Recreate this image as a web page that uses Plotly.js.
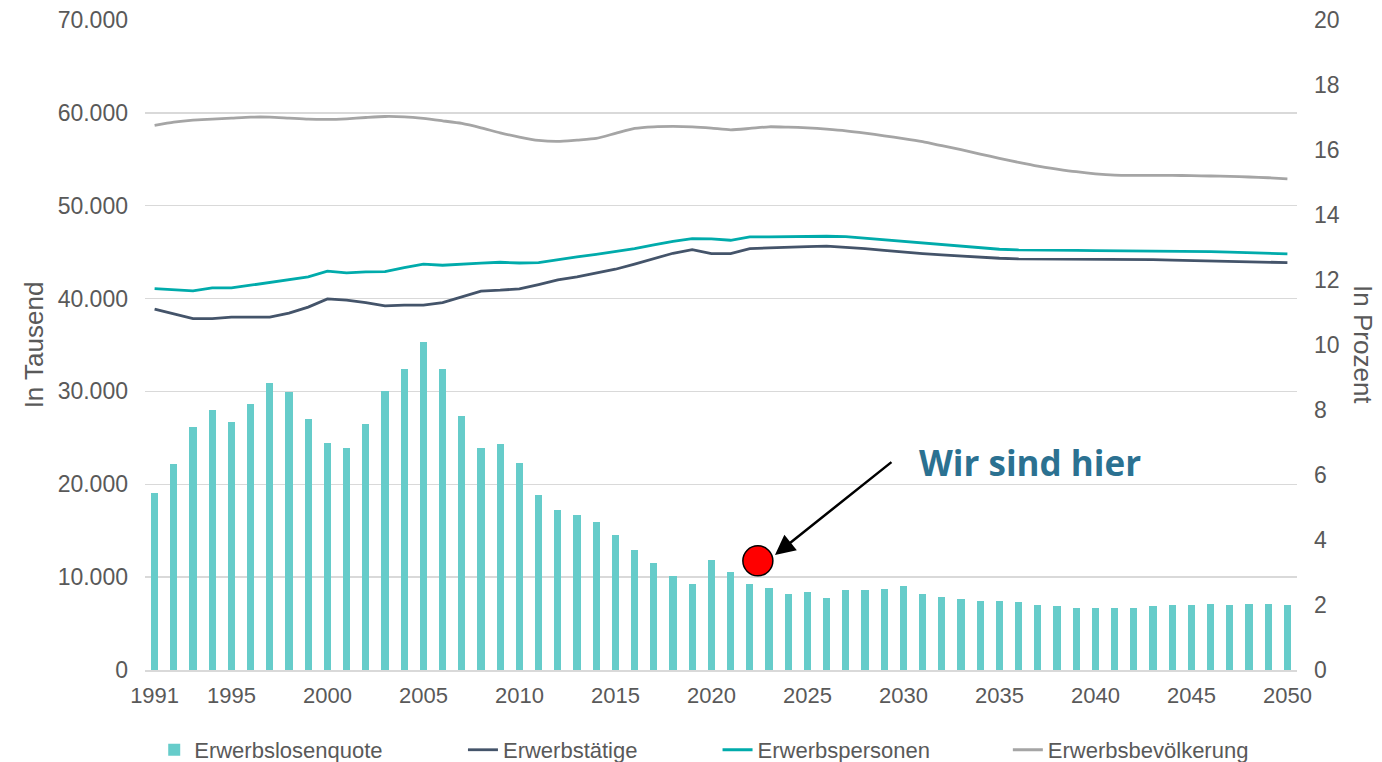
<!DOCTYPE html>
<html>
<head>
<meta charset="utf-8">
<script src="https://cdn.plot.ly/plotly-3.0.1.min.js"></script>
<style>html,body{margin:0;padding:0;background:#fff;}#chart{width:1382px;height:762px;}</style>
</head>
<body>
<div id="chart"></div>
<script>
const years = [1991,1992,1993,1994,1995,1996,1997,1998,1999,2000,
  2001,2002,2003,2004,2005,2006,2007,2008,2009,2010,
  2011,2012,2013,2014,2015,2016,2017,2018,2019,2020,
  2021,2022,2023,2024,2025,2026,2027,2028,2029,2030,
  2031,2032,2033,2034,2035,2036,2037,2038,2039,2040,
  2041,2042,2043,2044,2045,2046,2047,2048,2049,2050];

// Erwerbslosenquote in %
const erwerbslosenquote = [5.44,6.35,7.47,8.01,7.63,8.20,8.84,8.55,7.71,6.97,
  6.84,7.58,8.60,9.27,10.09,9.25,7.81,6.82,6.96,6.37,
  5.38,4.92,4.78,4.54,4.16,3.70,3.29,2.89,2.65,3.39,
  3.01,2.64,2.52,2.33,2.40,2.23,2.46,2.46,2.50,2.58,
  2.33,2.25,2.17,2.13,2.11,2.10,1.99,1.96,1.91,1.92,
  1.90,1.91,1.96,2.00,1.99,2.02,2.00,2.03,2.03,2.00];

// in Tausend
const erwerbstaetige = [38860,38360,37850,37850,38000,38000,38000,38430,39080,39970,
  39830,39570,39220,39290,39290,39570,40220,40800,40900,41050,
  41510,42010,42330,42730,43160,43700,44300,44880,45270,44840,
  44840,45380,45450,45560,45590,45640,45530,45380,45200,44990,
  44840,44700,44560,44450,44340,44270,44270,44270,44270,44260,
  44250,44240,44200,44150,44090,44050,43980,43940,43900,43870];

const erwerbspersonen = [41080,40940,40830,41150,41150,41440,41720,42050,42330,42950,
  42770,42870,42910,43340,43700,43590,43660,43810,43910,43830,
  43870,44200,44490,44770,45060,45380,45780,46170,46450,46420,
  46280,46640,46640,46670,46710,46710,46670,46500,46310,46150,
  45990,45780,45590,45420,45310,45240,45200,45190,45180,45170,
  45160,45140,45120,45100,45080,45060,45000,44920,44850,44810];

const erwerbsbevoelkerung = [58650,59000,59220,59320,59430,59540,59540,59430,59320,59290,
  59360,59500,59610,59570,59400,59140,58860,58390,57850,57390,
  57030,56920,57070,57250,57790,58320,58500,58540,58500,58360,
  58170,58320,58500,58460,58390,58250,58070,57820,57530,57230,
  56890,56460,56030,55560,55100,54670,54270,53950,53660,53440,
  53300,53270,53270,53270,53230,53200,53160,53090,53010,52900];

const leftTicks = [0,10000,20000,30000,40000,50000,60000,70000];
const leftTickText = ['0','10.000','20.000','30.000','40.000','50.000','60.000','70.000'];
const xTicks = [1991,1995,2000,2005,2010,2015,2020,2025,2030,2035,2040,2045,2050];

// "Wir sind hier" marker (year, %)
const hereX = [2022.42];
const hereY = [3.36];

const FONT = '"Liberation Sans", Arial, sans-serif';
const GREY = '#595959';

const traces = [
  {type:'bar', x:years, y:erwerbslosenquote, yaxis:'y2', name:'Erwerbslosenquote',
   marker:{color:'#66CCCA'}, width:0.38, legend:'legend'},
  {type:'scatter', mode:'lines', x:years, y:erwerbstaetige, name:'Erwerbstätige',
   line:{color:'#44546A', width:2.8}, legend:'legend2'},
  {type:'scatter', mode:'lines', x:years, y:erwerbspersonen, name:'Erwerbspersonen',
   line:{color:'#00ABAB', width:2.8}, legend:'legend3'},
  {type:'scatter', mode:'lines', x:years, y:erwerbsbevoelkerung, name:'Erwerbsbevölkerung',
   line:{color:'#A5A5A5', width:2.8, shape:'spline', smoothing:0.6}, legend:'legend4'},
  {type:'scatter', mode:'markers', x:hereX, y:hereY, yaxis:'y2', showlegend:false,
   marker:{size:30, color:'#FF0000', line:{color:'#000', width:1.5}}, hoverinfo:'skip'}
];

const legBase = {orientation:'h', yanchor:'middle', y:-0.123, xanchor:'left',
  font:{family:FONT, size:22, color:GREY}, bgcolor:'rgba(0,0,0,0)'};

const layout = {
  width:1382, height:762,
  margin:{l:145, r:85, t:20, b:92, autoexpand:false},
  paper_bgcolor:'#fff', plot_bgcolor:'#fff',
  font:{family:FONT, size:23, color:GREY},
  bargap:0,
  xaxis:{type:'linear', range:[1990.5, 2050.5], tickvals:xTicks, ticktext:xTicks.map(String),
    showgrid:false, zeroline:false, showline:true, linecolor:'#D9D9D9', linewidth:1.5,
    ticks:'', ticklabelstandoff:5, tickfont:{family:FONT, size:22, color:GREY}},
  yaxis:{range:[0,70000], tickvals:leftTicks, ticktext:leftTickText,
    showgrid:true, gridcolor:'#D9D9D9', gridwidth:1.5, zeroline:false, showline:false,
    ticks:'', ticklabelstandoff:16, tickfont:{family:FONT, size:23, color:GREY},
    title:{text:'In Tausend', font:{family:FONT, size:26, color:GREY}, standoff:6}},
  yaxis2:{range:[0,20], dtick:2, overlaying:'y', side:'right', showgrid:false,
    zeroline:false, showline:false, ticks:'', ticklabelstandoff:16,
    tickfont:{family:FONT, size:23, color:GREY}},
  legend: Object.assign({}, legBase, {x:0.008}),
  legend2: Object.assign({}, legBase, {x:0.276}),
  legend3: Object.assign({}, legBase, {x:0.497}),
  legend4: Object.assign({}, legBase, {x:0.749}),
  showlegend:true,
  annotations:[
    {xref:'x', yref:'y2', x:2023.31, y:3.54, ax:118, ay:-94, axref:'pixel', ayref:'pixel',
     text:'', showarrow:true, arrowhead:2, arrowsize:1.6, arrowwidth:2.5, arrowcolor:'#000'},
    {xref:'x', yref:'y2', x:2036.6, y:6.38, text:'<b>Wir sind hier</b>', showarrow:false,
     font:{family:'"Open Sans", sans-serif', size:35, color:'#2B7191'}},
    {xref:'paper', yref:'paper', x:1.072, y:0.5, text:'In Prozent', textangle:90,
     showarrow:false, font:{family:FONT, size:26, color:GREY}}
  ]
};

Plotly.newPlot('chart', traces, layout, {displayModeBar:false, staticPlot:true});
</script>
</body>
</html>
